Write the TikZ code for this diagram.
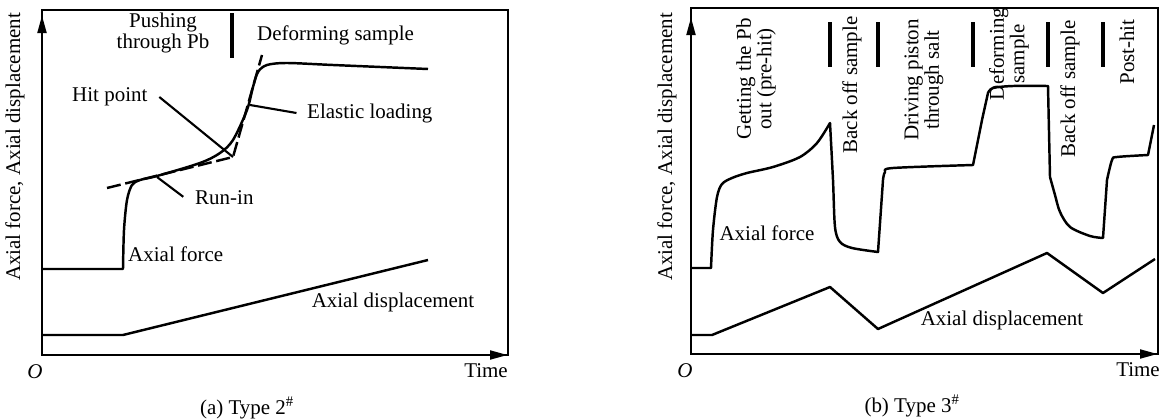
\documentclass[tikz,border=0pt]{standalone}
\usepackage{fontspec}
\setmainfont{Liberation Serif}
\usetikzlibrary{arrows.meta}

\begin{document}
\begin{tikzpicture}[x=0.03cm,y=-0.03cm,
    every node/.style={font=\fontsize{17.9}{17.5}\selectfont},
    axis/.style={line width=2.4pt,-{Triangle[length=5.4mm,width=2.6mm]}},
    frame/.style={line width=1.6pt},
    curve/.style={line width=2.1pt,line join=round},
    leader/.style={line width=1.8pt},
    tangent/.style={line width=2.1pt,dash pattern=on 12pt off 4pt},
    bar/.style={line width=2.6pt},
    phase/.style={rotate=90,align=center,inner sep=0pt}]
    \useasboundingbox (0,0) rectangle (1166,419);

    % (a) Type 2
    \coordinate (OA) at (42,355);
    \coordinate (TA) at (42,15);
    \coordinate (EA) at (508,355);
    \draw[frame] (42,10) rectangle (508,355);
    \draw[axis] (OA) -- (TA);
    \draw[axis] (OA) -- (EA);
    \node (oA) at (35,372) {\textit{O}};
    \node[anchor=east,inner sep=0pt] (timeA) at (508,371) {Time};
    \node[rotate=90] (ylabA) at (15,147) {Axial force, Axial displacement};
    \node (capA) at (247,408) {(a) Type 2\textsuperscript{\#}};

    \node[align=center,inner sep=0pt] (push) at (163,33) {Pushing\\through Pb};
    \draw[bar] (232,13) -- (232,58);
    \node[anchor=west,inner sep=0pt] (deformA) at (257,35) {Deforming sample};

    \draw[curve] (OA |- 0,269) -- (123,269) -- plot[smooth,tension=.5] coordinates {(123,269) (124,230) (127,200) (132,185) (140,180) (157,176) (200,163) (220,153) (233,140) (247,110) (253,87) (258,72) (267,65) (287,63) (333,65) (428,69)};
    \draw[curve] (OA |- 0,335) -- (123,335) -- (428,260);
    \coordinate (hitp) at (233,157);
    \draw[tangent] (107,188) -- (hitp) -- (262,55);

    \node[anchor=west,inner sep=0pt] (hit) at (72,97) {Hit point};
    \draw[leader] ([xshift=10]hit.east) -- (hitp);
    \coordinate (elastp) at (250,105);
    \node[anchor=west,inner sep=0pt] (elastic) at (307,113) {Elastic loading};
    \draw[leader] (elastp) -- ([xshift=-9]elastic.west);
    \coordinate (runp) at (157,177);
    \node[anchor=west,inner sep=0pt] (runin) at (195,198) {Run-in};
    \draw[leader] (runp) -- ([xshift=-10,yshift=1]runin.west);
    \node[anchor=west,inner sep=0pt] (forceA) at (128,254) {Axial force};
    \node (dispA) at (393,302) {Axial displacement};

    % (b) Type 3
    \coordinate (OB) at (691,354);
    \coordinate (TB) at (691,17);
    \coordinate (EB) at (1158,354);
    \draw[frame] (691,8) rectangle (1158,354);
    \draw[axis] (OB) -- (TB);
    \draw[axis] (OB) -- (EB);
    \node (oB) at (685,371) {\textit{O}};
    \node[anchor=east,inner sep=0pt] (timeB) at (1160,370) {Time};
    \node[rotate=90] (ylabB) at (667,147) {Axial force, Axial displacement};
    \node (capB) at (912,406) {(b) Type 3\textsuperscript{\#}};

    \node[phase] (getpb) at (756,79) {Getting the Pb\\out (pre-hit)};
    \node[phase] (backA) at (852,85) {Back off sample};
    \node[phase] (drive) at (924,80) {Driving piston\\through salt};
    \node[phase] (deformB) at (1009,54) {Deforming\\sample};
    \node[phase] (backB) at (1070,89) {Back off sample};
    \node[phase] (post) at (1127,52) {Post-hit};
    \foreach \bx in {830,878,973,1048,1103}
        \draw[bar] (\bx,22) -- (\bx,67);

    \draw[curve] (OB |- 0,268) -- (711,268)
        -- plot[smooth,tension=.5] coordinates {(711,268) (713,230) (717,197) (722,184) (732,178) (747,173) (773,167) (800,157) (817,143) (830,123)}
        -- plot[smooth,tension=.5] coordinates {(830,123) (833,180) (835,227) (840,242) (852,248) (878,252)}
        -- (883,180) -- plot[smooth,tension=.5] coordinates {(883,180) (885,172) (893,168) (973,165)}
        -- (982,120) -- plot[smooth,tension=.5] coordinates {(988,93) (993,88) (1013,86) (1048,86)}
        -- (1050,177) -- plot[smooth,tension=.5] coordinates {(1050,177) (1055,195) (1060,212) (1070,227) (1090,236) (1103,238)}
        -- (1107,180) -- plot[smooth,tension=.5] coordinates {(1107,180) (1112,160) (1117,157) (1148,155)}
        -- (1154,125);
    \draw[curve] (OB |- 0,335) -- (712,335) -- (830,287) -- (878,329) -- (1047,253) -- (1103,293) -- (1155,259);
    \node (forceB) at (767,233) {Axial force};
    \node (dispB) at (1002,320) {Axial displacement};
\end{tikzpicture}
\end{document}
